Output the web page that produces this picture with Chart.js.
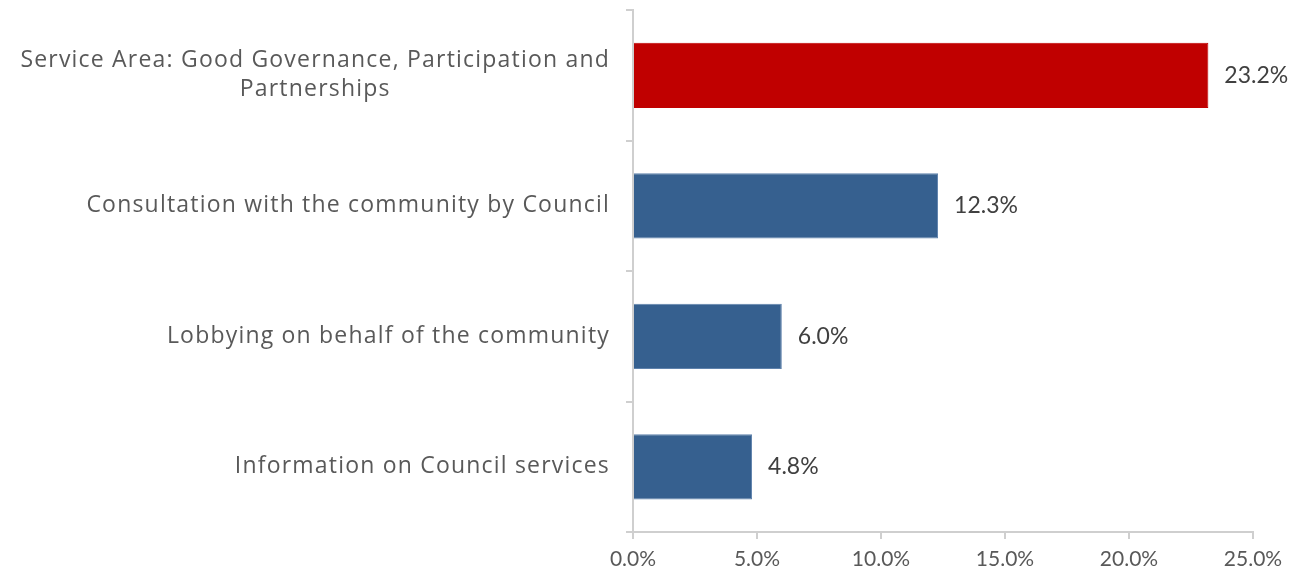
<!DOCTYPE html>
<html>
<head>
<meta charset="utf-8">
<script src="https://cdn.jsdelivr.net/npm/chart.js@4/dist/chart.umd.min.js"></script>
<style>
  body { margin: 0; background: #fff; }
  #wrap { width: 1306px; height: 573px; }
</style>
</head>
<body>
<div id="wrap"><canvas id="chart1" width="1306" height="573"></canvas></div>
<script>
// categories, top to bottom
const categories = [
  ['Service Area: Good Governance, Participation and', 'Partnerships'],
  ['Consultation with the community by Council'],
  ['Lobbying on behalf of the community'],
  ['Information on Council services']
];
const values = [23.2, 12.3, 6.0, 4.8];
const barColors = ['#C00000', '#36608F', '#36608F', '#36608F'];
const edgeColors = ['#C00000', '#5F82AC', '#5F82AC', '#5F82AC'];
const xTicks = [0, 5, 10, 15, 20, 25];

const FONT = 'Lato, "Open Sans", sans-serif';
const CAT_FONT = '"Open Sans", Lato, sans-serif';

// category labels: block right aligned against the axis, lines centred inside it
const catLabels = {
  id: 'catLabels',
  afterDraw(chart) {
    const c = chart.ctx;
    const y = chart.scales.y;
    c.save();
    c.font = '23px ' + CAT_FONT;
    c.letterSpacing = '1.2px';
    c.fillStyle = '#595959';
    c.textAlign = 'center';
    c.textBaseline = 'middle';
    const lh = 29;
    categories.forEach(function(lines, i) {
      let w = 0;
      lines.forEach(function(l) { w = Math.max(w, c.measureText(l).width); });
      const cx = 610 - w / 2;
      const cy = y.getPixelForValue(i);
      lines.forEach(function(l, j) {
        c.fillText(l, cx, cy + (j - (lines.length - 1) / 2) * lh);
      });
    });
    c.restore();
  }
};

// value labels at the end of each bar
const valueLabels = {
  id: 'valueLabels',
  afterDatasetsDraw(chart) {
    const c = chart.ctx;
    const meta = chart.getDatasetMeta(0);
    c.save();
    c.font = '23px ' + FONT;
    c.fillStyle = '#404040';
    c.textAlign = 'left';
    c.textBaseline = 'middle';
    meta.data.forEach(function(bar, i) {
      c.fillText(values[i].toFixed(1) + '%', bar.x + 16, bar.y);
    });
    c.restore();
  }
};

const chart1 = new Chart(document.getElementById('chart1'), {
  type: 'bar',
  data: {
    labels: categories.map(function(l) { return l.join(' '); }),
    datasets: [{
      data: values,
      backgroundColor: barColors,
      borderColor: edgeColors,
      borderWidth: 1,
      categoryPercentage: 0.5,
      barPercentage: 1.0
    }]
  },
  options: {
    indexAxis: 'y',
    responsive: false,
    animation: false,
    layout: { padding: { top: 10, right: 53, left: 0, bottom: 0 } },
    plugins: {
      legend: { display: false },
      tooltip: { enabled: false }
    },
    scales: {
      x: {
        min: 0,
        max: 25,
        afterBuildTicks: function(scale) {
          scale.ticks = xTicks.map(function(v) { return { value: v }; });
        },
        afterFit: function(scale) { scale.height = 41; },
        border: { color: '#cfcfcf', width: 2 },
        grid: { drawOnChartArea: false, tickLength: 7, color: '#cfcfcf', lineWidth: 2 },
        ticks: {
          padding: 8,
          color: '#595959',
          font: { family: FONT, size: 21 },
          maxRotation: 0,
          callback: function(v) { return v.toFixed(1) + '%'; }
        }
      },
      y: {
        afterFit: function(scale) { scale.width = 633; },
        border: { color: '#cfcfcf', width: 2 },
        grid: { drawOnChartArea: false, offset: true, tickLength: 7, color: '#cfcfcf', lineWidth: 2 },
        ticks: { display: false }
      }
    }
  },
  plugins: [catLabels, valueLabels]
});
</script>
</body>
</html>
